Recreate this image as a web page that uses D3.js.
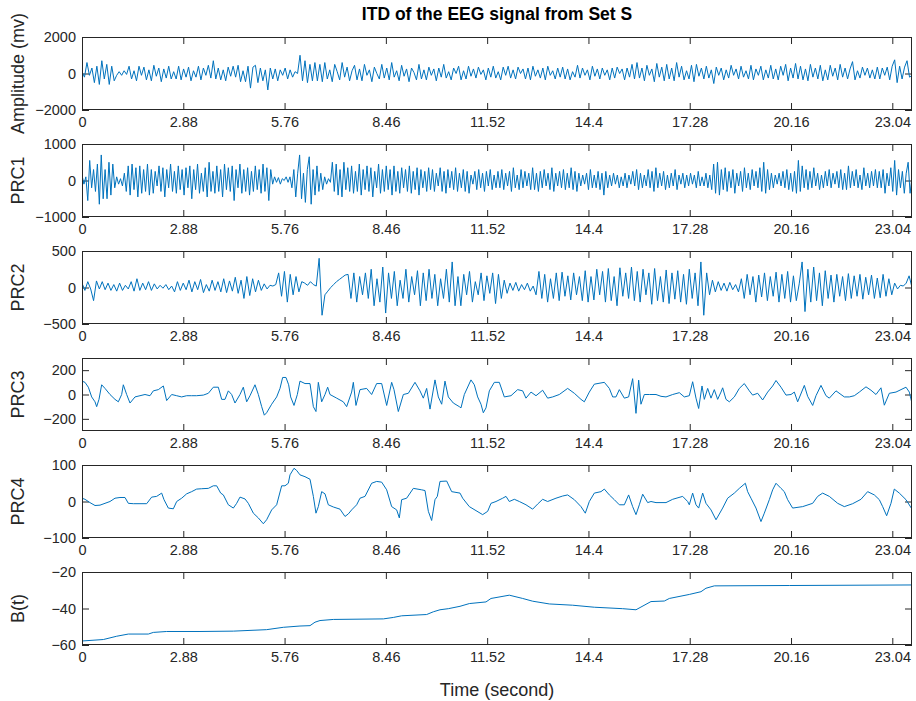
<!DOCTYPE html>
<meta charset="utf-8" />
<title>ITD of the EEG signal from Set S</title>
<style>
  body { margin: 0; background: #fff; }
  svg { display: block; font-family: "Liberation Sans", Arial, sans-serif; }
  .tick line { stroke: #262626; }
  .tick text { fill: #262626; font-size: 14.5px; }
  .box { fill: none; stroke: #262626; stroke-width: 1px; }
  .sig { fill: none; stroke: #0072bd; stroke-width: 1px; stroke-linejoin: round; }
  .ylab, .xlab { fill: #262626; font-size: 18px; }
  .title { fill: #000; font-size: 17.5px; font-weight: bold; }
</style>
<body>
  <script src="https://cdn.jsdelivr.net/npm/d3@7"></script>
  <script>
    // total record length (s) and x ticks (original labels "8.46" kept as printed)
    var duration = 23.6;
    var xTicks = [0, 2.88, 5.76, 8.64, 11.52, 14.4, 17.28, 20.16, 23.04];
    var xTickLabels = ["0", "2.88", "5.76", "8.46", "11.52", "14.4", "17.28", "20.16", "23.04"];

    var yLabels = ["Amplitude (mv)", "PRC1", "PRC2", "PRC3", "PRC4", "B(t)"];
    var yDomains = [[-2000, 2000], [-1000, 1000], [-500, 500], [-300, 300], [-100, 100], [-60, -20]];
    var yTicks = [[-2000, 0, 2000], [-1000, 0, 1000], [-500, 0, 500], [-200, 0, 200], [-100, 0, 100], [-60, -40, -20]];

    var eeg = [
      100, -200, 600, -100, 300, -500, 400, -600, 700, -300, 500, -600, 400, -400,
      -100, 100, -100, 150, -50, 400, -300, 150, -400, 400, -100, 350, -350, 200,
      -400, 450, -150, 300, -450, 250, -250, 400, -300, 100, -300, 400, -350, 250,
      -200, 350, -400, 150, -200, 400, -350, 300, -100, 450, -250, 700, -300, 300,
      -350, 200, -400, 350, -150, 400, -200, 450, -450, 150, -450, 400, -800, 350,
      450, -500, 300, -400, 200, -900, 300, -300, 250, -400, 200, -100, 300, -300,
      200, -200, 100, 0, 1000, -400, 700, -500, 500, -400, 600, -400, 500, -450,
      600, -300, 200, -450, 500, 100, -350, 600, -200, 350, -400, 150, 450, -350,
      250, -400, 500, -100, 200, -450, 350, 0, -300, 500, -250, 300, -350, 600,
      -200, 150, -400, 450, -150, 250, -450, 300, 50, -350, 500, -300, 200, -350,
      350, -100, 250, -400, 300, -200, 500, -250, 100, -350, 300, 0, 400, -350,
      150, -300, 400, -150, 250, -250, 350, -50, 200, -350, 300, -200, 400, -250,
      100, -350, 350, -100, 400, -250, 200, -300, 350, 0, 250, -300, 300, -350,
      400, -150, 200, -250, 300, -350, 400, -100, 150, -300, 300, -200, 350, -300,
      250, -350, 100, -200, 450, -250, 300, -100, 200, -350, 400, -150, 250, -300,
      300, -100, 200, -350, 300, -250, 350, 0, 250, -350, 300, -200, 500, -300,
      600, -250, 300, -400, 450, -100, 250, -450, 550, -200, 350, -400, 500, -300,
      300, -400, 600, -200, 400, -350, 150, -300, 450, -450, 500, -150, 300, -300,
      400, -250, 200, -550, 350, -100, 300, -350, 200, -250, 450, -100, 250, -300,
      400, -200, 150, -300, 450, -350, 250, -100, 400, -350, 200, -250, 450, -300,
      250, -350, 400, -100, 500, -400, 300, -250, 550, -300, 400, -350, 250, -400,
      500, -200, 300, -300, 450, -400, 200, -350, 450, -150, 300, -350, 500, -200,
      300, -300, 250, 650, -350, 150, -250, 350, -100, 300, -250, 200, -300, 350,
      -300, 300, -100, 350, -350, 400, 750, -500, 400, -300, 350, 700, -200, -100
    ];

    var prc1 = [
      150, -100, 100, -550, 550, -200, 300, -300, 450, -650, 700, -500, 300, -500, 500, -400, 450, -200,
      100, -100, 50, -150, 200, -300, 400, -400, 450, -250, 350, -450, 400, -350, 300, -300, 450, -400,
      300, -350, 250, -150, 400, -300, 350, -450, 300, -200, 450, -300, 250, -350, 400, -250, 300, -400,
      350, -200, 400, -500, 300, -250, 450, -350, 200, -300, 350, -450, 500, -300, 250, -350, 400, -300,
      300, -450, 450, -250, 350, -300, 400, -550, 300, -200, 450, -350, 300, -300, 350, -400, 250, -300,
      400, -250, 300, -350, 450, -300, 350, -550, 300, -100, 100, -50, 80, -100, 50, 0, 100, -50,
      100, -200, 300, -450, 200, 700, -500, 200, -600, 300, 650, -650, 300, -400, 400, -300, 200, -250,
      100, -100, 50, -50, 500, -300, 450, -400, 300, -450, 500, -250, 350, -300, 400, -350, 250, -300,
      450, -400, 300, -250, 400, -300, 350, -450, 250, -200, 450, -350, 300, -300, 400, -250, 300, -400,
      400, -300, 250, -350, 350, -200, 300, -300, 400, -350, 250, -250, 350, -400, 300, -200, 250, -300,
      350, -250, 300, -300, 200, -150, 350, -300, 250, -350, 300, -200, 250, -250, 350, -300, 200, -200,
      300, -300, 250, -350, 150, -100, 250, -250, 300, -200, 200, -300, 250, -150, 300, -250, 150, -200,
      250, -200, 300, -250, 200, -150, 250, -300, 350, -200, 150, -250, 300, -200, 250, -150, 200, -250,
      350, -250, 200, -300, 250, -200, 300, -150, 200, -250, 350, -300, 200, -150, 250, -200, 300, -250,
      200, -200, 350, -250, 250, -300, 200, -150, 150, -100, 200, -250, 300, -200, 150, -200, 250, -250,
      200, -400, 250, -200, 150, -150, 200, -100, 150, -200, 100, -150, 200, -200, 150, -100, 250, -150,
      300, -250, 200, -200, 150, -150, 300, -200, 250, -300, 350, -200, 200, -150, 250, -250, 150, -200,
      200, -150, 300, -250, 150, -100, 200, -200, 150, -150, 200, -100, 150, -200, 250, -150, 100, -150,
      200, -200, 150, -250, 450, -350, 500, -400, 300, -250, 350, -300, 250, -200, 300, -350, 200, -150,
      250, -300, 350, -200, 200, -250, 300, -150, 250, -200, 350, -300, 500, -350, 300, -250, 200, -200,
      150, -100, 200, -150, 250, -200, 300, -250, 200, -300, 250, -350, 550, -300, 400, -200, 300, -250,
      250, -200, 350, -150, 200, -250, 150, -200, 250, -150, 300, -200, 200, -100, 250, -200, 300, -250,
      200, -250, 400, -200, 250, -150, 300, -200, 150, -250, 350, -150, 200, -200, 250, -150, 300, -200,
      250, -200, 300, -350, 200, -150, 350, -300, 550, -400, 300, -200, 250, -350, 200, 500, -350, 100
    ];

    var prc2 = [
      60, -40, 80, -20, -180, 90, -20, 80, -30, 60, -40, 40,
      -50, 60, -40, 30, -20, 80, -50, 120, -40, 60, -30, 80,
      -40, 50, -20, 30, -10, 40, -30, 20, -60, 80, -40, 60,
      -30, 100, -60, 80, -30, 110, -70, 40, -50, 100, -40, 80,
      -60, 120, -70, 90, -50, 140, -80, 100, -150, 150, -110, 120,
      -60, 100, -40, 50, -20, 30, 20, 40, 200, -120, 220, -200,
      180, -100, 150, -60, 80, 60, 30, 80, 40, 20, 400, -380,
      -100, -50, 0, 40, 80, 110, 140, 170, 180, -150, 200, -200,
      150, -100, 200, -150, 250, -250, 120, -200, 280, -350, 200, -150,
      220, -250, 100, -150, 250, -200, 150, -100, 230, -250, 200, -180,
      250, -150, 180, -250, 120, -150, 250, -200, 350, -250, 150, -250,
      180, -100, 220, -200, 80, -100, 200, -180, 160, -80, 200, -220,
      180, -150, 100, -80, 60, -40, 70, -50, 40, -30, 60, -50,
      20, -100, 220, -150, 180, -200, 120, -150, 200, -180, 210, -120,
      160, -170, 200, -100, 150, -180, 230, -200, 150, -170, 250, -100,
      220, -200, 260, -180, 150, -250, 270, -120, 200, -150, 280, -180,
      220, -200, 250, -100, 200, -230, 260, -180, 150, -200, 240, -220,
      200, -160, 230, -200, 180, -230, 250, -150, 200, -250, 350, -380,
      200, -100, 100, -60, 80, -40, 60, -50, 70, -30, 40, -60,
      120, -150, 180, -100, 150, -200, 170, -130, 200, -180, 150, -120,
      210, -200, 180, -150, 220, -200, 160, -180, 50, 350, -330, 250,
      -200, 280, -180, 200, -250, 230, -150, 170, -200, 180, -120, 150,
      -180, 190, -150, 160, -120, 180, -160, 140, -100, 170, -150, 130,
      -140, 180, -120, 120, -100, 60, -20, 30, 20, 60, 160, 0
    ];

    // slower components, [time (s), value]
    var prc3 = [
      [0, 110], [0.085, 100], [0.18, 60], [0.275, -20], [0.37, -60], [0.417, -100], [0.483, -40],
      [0.559, 80], [0.654, 50], [0.796, 0], [0.938, -40], [1.033, -60], [1.128, 0], [1.175, 80],
      [1.27, 0], [1.365, -70], [1.507, -20], [1.649, -10], [1.791, 0], [1.933, -10], [2.028, 30],
      [2.17, 40], [2.313, 70], [2.407, -50], [2.55, 0], [2.692, -10], [2.834, -20], [2.976, -10],
      [3.118, -10], [3.26, -10], [3.45, -5], [3.592, 10], [3.734, 60], [3.876, 60], [3.971, -40],
      [4.066, -40], [4.161, 30], [4.255, 0], [4.35, -70], [4.492, 0], [4.587, 60], [4.682, -60],
      [4.777, -10], [4.919, 80], [5.014, 0], [5.109, -100], [5.184, -170], [5.25, -150], [5.393, -80],
      [5.535, -20], [5.63, 50], [5.705, 140], [5.8, 140], [5.876, 80], [5.933, -20], [6.028, -90],
      [6.123, 0], [6.198, 110], [6.34, 90], [6.483, 90], [6.578, -100], [6.653, -140], [6.72, 100],
      [6.815, -60], [6.909, 0], [6.985, 60], [7.051, 0], [7.241, -30], [7.43, -60], [7.525, -100],
      [7.667, 20], [7.715, 100], [7.79, -90], [7.904, 40], [8.094, 50], [8.236, 0], [8.378, 90],
      [8.521, 90], [8.663, -90], [8.805, 100], [8.871, 40], [8.994, -140], [9.137, 0], [9.279, 10],
      [9.468, 100], [9.61, 30], [9.705, -30], [9.8, 50], [9.895, -120], [10.037, 120], [10.132, -20],
      [10.227, -80], [10.321, 110], [10.416, -20], [10.558, -70], [10.729, -100], [10.776, -110],
      [10.871, 0], [11.06, 120], [11.155, 80], [11.25, -20], [11.345, -80], [11.411, -150],
      [11.487, -110], [11.582, 30], [11.724, 100], [11.866, 100], [12.008, -20], [12.198, -10],
      [12.387, 40], [12.53, 30], [12.624, -30], [12.767, 20], [12.909, -10], [13.098, 35],
      [13.24, -30], [13.383, -20], [13.572, 0], [13.809, 50], [13.999, 10], [14.188, -40],
      [14.283, -60], [14.425, 20], [14.567, 85], [14.852, 100], [14.994, 50], [15.089, -20],
      [15.183, -20], [15.278, 40], [15.42, -30], [15.543, -20], [15.657, 130], [15.752, -155],
      [15.828, 118], [15.894, -80], [15.989, 0], [16.131, 0], [16.321, 0], [16.463, -15],
      [16.605, -20], [16.795, 0], [16.984, 15], [17.126, -20], [17.268, -10], [17.363, 105],
      [17.458, -30], [17.534, -115], [17.629, 70], [17.695, -40], [17.79, 50], [17.885, -30],
      [17.979, 40], [18.074, -40], [18.169, 20], [18.216, 55], [18.311, -40], [18.406, -60],
      [18.548, -20], [18.69, 50], [18.832, 90], [18.975, 30], [19.069, -5], [19.212, 10],
      [19.354, -45], [19.496, 20], [19.638, 70], [19.733, 115], [19.875, 60], [20.017, -5],
      [20.16, 0], [20.254, 20], [20.349, -60], [20.539, 75], [20.633, -15], [20.776, -90],
      [20.87, -10], [21.012, 75], [21.154, -10], [21.249, -30], [21.439, 30], [21.581, 0],
      [21.676, -20], [21.818, -20], [21.96, -10], [22.102, 20], [22.292, 63], [22.434, 35],
      [22.576, 0], [22.718, 55], [22.813, -88], [22.955, 10], [23.145, 20], [23.429, 60],
      [23.524, 20], [23.6, -74]
    ];

    var prc4 = [
      [0, 9], [0.085, 6], [0.227, -3], [0.37, -11], [0.512, -10], [0.654, -5], [0.796, 0],
      [0.938, 9], [1.08, 11], [1.223, 11], [1.317, -5], [1.46, -6], [1.649, -6], [1.839, -6],
      [1.981, 12], [2.123, 14], [2.265, 23], [2.332, 5], [2.455, -18], [2.597, -20], [2.692, 0],
      [2.834, 9], [2.976, 21], [3.118, 27], [3.26, 34], [3.403, 35], [3.592, 36], [3.734, 43],
      [3.829, 43], [3.943, 23], [4.019, 18], [4.161, -9], [4.303, -18], [4.398, -5], [4.492, 12],
      [4.635, 7], [4.729, -5], [4.872, -32], [5.014, -45], [5.156, -61], [5.25, -50], [5.393, -23],
      [5.535, -9], [5.677, 43], [5.772, 43], [5.867, 50], [5.914, 73], [6.028, 91], [6.104, 85],
      [6.198, 73], [6.34, 68], [6.483, 61], [6.578, 14], [6.653, -32], [6.72, -14], [6.815, 27],
      [6.909, 21], [7.004, -9], [7.146, -15], [7.336, -21], [7.478, -41], [7.573, -34],
      [7.667, -23], [7.81, -9], [7.904, 9], [8.047, 14], [8.236, 50], [8.378, 55], [8.521, 53],
      [8.663, 32], [8.805, -14], [8.947, -23], [9.023, -45], [9.089, 5], [9.231, 9], [9.421, 36],
      [9.658, 32], [9.753, 30], [9.848, -27], [9.942, -52], [10.037, 5], [10.103, 14], [10.179, 55],
      [10.369, 56], [10.511, 27], [10.748, 23], [10.824, 9], [11.013, -14], [11.203, -25],
      [11.392, -36], [11.534, -27], [11.629, -5], [11.771, 0], [11.961, 9], [12.056, 14],
      [12.15, 0], [12.293, 6], [12.435, 0], [12.624, -9], [12.814, -21], [12.956, -7], [13.098, 6],
      [13.24, 0], [13.477, 9], [13.667, 15], [13.809, 18], [13.999, 5], [14.188, -14], [14.311, -32],
      [14.425, 0], [14.567, 23], [14.757, 27], [14.852, 34], [14.994, 18], [15.136, 5], [15.278, -9],
      [15.42, -9], [15.543, 18], [15.657, -14], [15.752, -36], [15.847, -9], [15.942, 20],
      [16.084, -3], [16.178, 0], [16.321, -3], [16.605, -3], [16.795, 6], [17.079, 14], [17.221, 0],
      [17.268, -9], [17.363, 23], [17.458, -9], [17.534, -18], [17.648, 23], [17.742, -5],
      [17.885, -23], [18.027, -50], [18.216, -18], [18.358, 9], [18.548, 23], [18.69, 36],
      [18.861, 50], [18.927, 27], [19.022, 9], [19.164, -18], [19.306, -55], [19.401, -32],
      [19.543, 5], [19.638, 32], [19.733, 50], [19.875, 36], [19.969, 27], [20.064, 5],
      [20.206, -18], [20.491, -14], [20.776, -5], [20.918, 14], [21.06, 23], [21.249, 14],
      [21.486, -5], [21.676, -14], [21.913, -6], [22.149, 6], [22.339, 27], [22.529, 18],
      [22.671, 5], [22.766, -14], [22.879, -39], [23.002, -5], [23.097, 34], [23.239, 23],
      [23.429, 5], [23.6, -21]
    ];

    // residual trend B(t)
    var trend = [
      [0, -57.8], [0.607, -57.0], [0.986, -55.2], [1.317, -54.0], [1.886, -54.0], [2.028, -53.1],
      [2.407, -52.6], [3.355, -52.6], [4.303, -52.4], [5.25, -51.6], [5.725, -50.3], [6.198, -49.6],
      [6.483, -49.4], [6.625, -47.5], [6.767, -46.6], [7.146, -46.0], [8.568, -45.7], [8.852, -44.9],
      [9.089, -44.0], [9.8, -43.3], [9.99, -41.8], [10.179, -40.7], [10.416, -40.1], [10.748, -38.8],
      [11.013, -37.3], [11.487, -36.4], [11.629, -34.5], [12.15, -32.7], [12.53, -34.5],
      [12.814, -36.0], [13.288, -37.5], [13.951, -38.2], [14.567, -39.3], [15.373, -40.1],
      [15.752, -40.7], [15.894, -39.2], [16.178, -36.2], [16.558, -35.9], [16.7, -34.5],
      [17.268, -32.3], [17.6, -30.8], [17.742, -28.9], [17.979, -27.6], [20.112, -27.4], [23.6, -27.1]
    ];

    // evenly sampled series -> [t, v]
    function sampled(values) {
      var dt = duration / (values.length - 1);
      return values.map(function (v, i) {
        return [i * dt, v];
      });
    }

    var series = [sampled(eeg), sampled(prc1), sampled(prc2), prc3, prc4, trend];

    var width = 916,
      height = 701,
      margin = { left: 82, right: 4 },
      panelTop = 37,
      panelStep = 107,
      panelHeight = 73,
      tickLen = 7;

    var svg = d3
      .select("body")
      .append("svg")
      .attr("width", width)
      .attr("height", height);

    var x = d3
      .scaleLinear()
      .domain([0, duration])
      .range([margin.left, width - margin.right]);

    svg
      .append("text")
      .attr("class", "title")
      .attr("x", (margin.left + width - margin.right) / 2)
      .attr("y", 20)
      .attr("text-anchor", "middle")
      .text("ITD of the EEG signal from Set S");

    series.forEach(function (data, k) {
      var top = panelTop + k * panelStep;
      var y = d3
        .scaleLinear()
        .domain(yDomains[k])
        .range([top + panelHeight, top]);

      var g = svg.append("g");

      g.append("clipPath")
        .attr("id", "clip" + k)
        .append("rect")
        .attr("x", x.range()[0])
        .attr("y", top)
        .attr("width", x.range()[1] - x.range()[0])
        .attr("height", panelHeight);

      // inward ticks on all four sides, like a boxed matlab axes
      g.append("g")
        .attr("transform", "translate(0," + (top + panelHeight) + ")")
        .call(
          d3.axisBottom(x)
            .tickValues(xTicks)
            .tickFormat(function (d, i) { return xTickLabels[i]; })
            .tickSizeInner(-tickLen)
            .tickSizeOuter(0)
            .tickPadding(7)
        );
      g.append("g")
        .attr("transform", "translate(0," + top + ")")
        .call(d3.axisTop(x).tickValues(xTicks).tickFormat("").tickSizeInner(-tickLen).tickSizeOuter(0));
      g.append("g")
        .attr("transform", "translate(" + x.range()[0] + ",0)")
        .call(d3.axisLeft(y).tickValues(yTicks[k]).tickFormat(d3.format("d")).tickSizeInner(-tickLen).tickSizeOuter(0).tickPadding(6));
      g.append("g")
        .attr("transform", "translate(" + x.range()[1] + ",0)")
        .call(d3.axisRight(y).tickValues(yTicks[k]).tickFormat("").tickSizeInner(-tickLen).tickSizeOuter(0));

      g.selectAll(".domain").remove();
      g.selectAll("text").attr("font-family", null).attr("font-size", null);

      g.append("path")
        .datum(data)
        .attr("class", "sig")
        .attr("clip-path", "url(#clip" + k + ")")
        .attr("d", d3.line()
          .x(function (d) { return x(d[0]); })
          .y(function (d) { return y(d[1]); }));

      g.append("rect")
        .attr("class", "box")
        .attr("x", x.range()[0] + 0.5)
        .attr("y", top + 0.5)
        .attr("width", x.range()[1] - x.range()[0] - 1)
        .attr("height", panelHeight - 1);

      g.append("text")
        .attr("class", "ylab")
        .attr("transform", "translate(24," + (top + panelHeight / 2) + ") rotate(-90)")
        .attr("text-anchor", "middle")
        .text(yLabels[k]);
    });

    svg
      .append("text")
      .attr("class", "xlab")
      .attr("x", (margin.left + width - margin.right) / 2)
      .attr("y", 696)
      .attr("text-anchor", "middle")
      .text("Time (second)");
  </script>
</body>
